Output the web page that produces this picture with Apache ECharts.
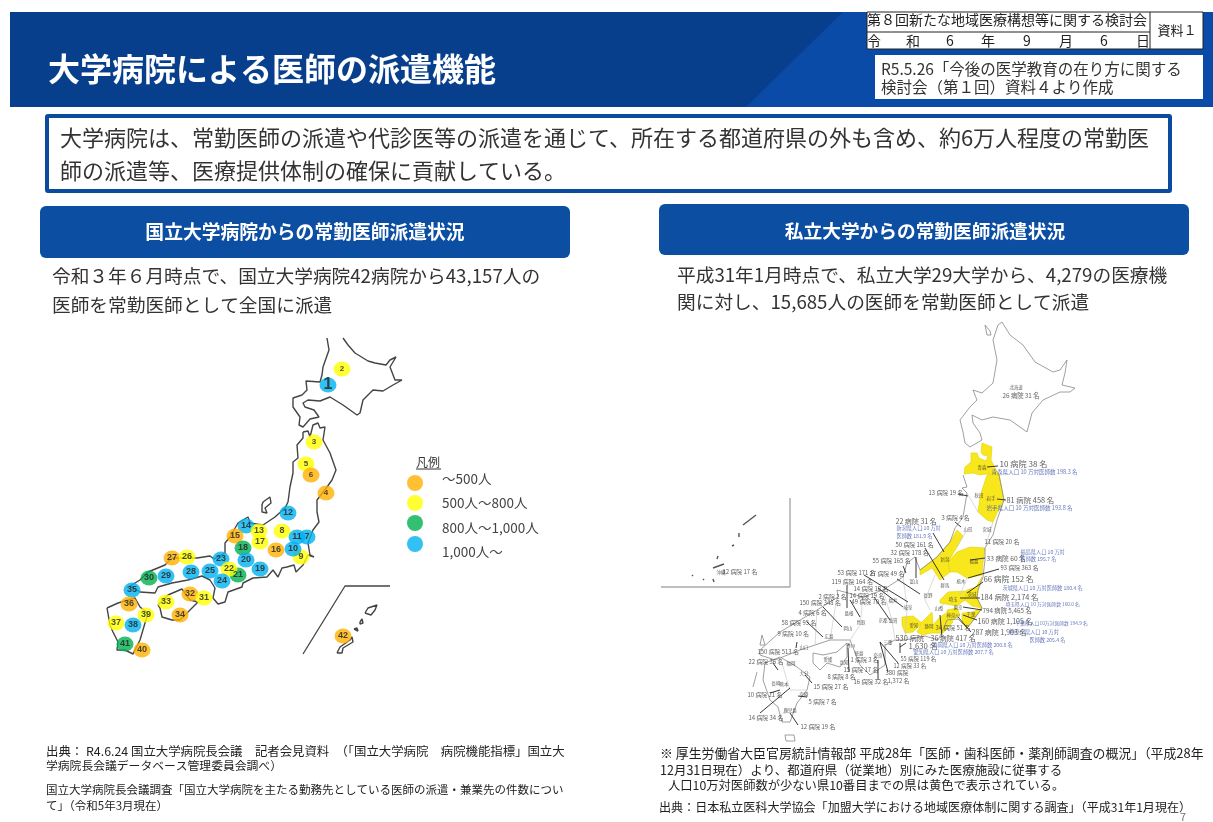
<!DOCTYPE html>
<html lang="ja">
<head>
<meta charset="utf-8">
<title>大学病院による医師の派遣機能</title>
<script src="https://cdn.jsdelivr.net/npm/echarts@6/dist/echarts.min.js"></script>
<style>html,body{margin:0;padding:0;background:#fff}#main{width:1213px;height:822px}</style>
</head>
<body>
<div id="main"></div>
<script>
var FONT = '"Noto Sans CJK JP","Noto Sans",sans-serif';

// 国立大学病院 [番号, x, y, 区分] 区分 0:~500 1:500~800 2:800~1000 3:1000~
var hospitals = [
  [1,328,385,3],[2,342,369,1],[3,314,442,1],[5,306,464,1],[6,311,475,0],[4,326,493,0],
  [12,288,513,3],[8,282,531,1],[11,297,537,3],[7,307,537,3],[9,301,557,1],[10,293,549,3],
  [16,276,550,0],[14,246,526,3],[13,259,531,1],[15,235,536,0],[17,260,542,1],[18,243,548,2],
  [23,221,559,3],[20,246,560,3],[19,260,569,3],[21,238,575,2],[22,229,569,1],[25,210,571,3],
  [24,222,581,3],[28,191,572,3],[29,166,576,3],[30,149,578,2],[27,172,558,0],[26,187,557,1],
  [35,132,590,3],[36,129,604,0],[32,190,594,0],[31,204,598,1],[33,166,602,1],[34,180,615,0],
  [39,146,615,1],[37,116,623,1],[38,133,625,3],[41,125,644,2],[40,142,650,0],[42,343,636,0]
];
var bandColors = ['#FFB000','#FFFF00','#00B050','#00B0F0'];
var legendLabels = ['〜500人','500人〜800人','800人〜1,000人','1,000人〜'];
var legendDots = [[415,483,0],[415,503,1],[415,523,2],[415,544,3]];

// 左の地図の輪郭
var leftHokkaido = [[327,338],[329,350],[323,367],[322,375],[320,382],[306,381],[305,383],[307,390],[302,395],[293,398],[293,407],[300,417],[299,425],[303,427],[310,419],[319,417],[314,410],[305,407],[303,403],[308,400],[320,401],[330,397],[343,405],[357,415],[360,413],[363,400],[373,390],[383,391],[393,385],[402,380],[395,380],[390,367],[396,357],[390,360],[386,365],[375,363],[368,361],[355,353],[348,345],[343,338]];
var leftHonshu = [[303,432],[308,431],[310,437],[313,425],[318,423],[320,428],[325,427],[323,440],[330,453],[336,470],[332,480],[327,487],[317,500],[317,512],[319,522],[313,530],[308,543],[310,555],[314,557],[308,555],[303,565],[296,572],[294,565],[287,567],[282,568],[278,577],[273,570],[267,577],[253,578],[243,583],[242,587],[228,592],[225,602],[218,604],[213,598],[215,588],[210,580],[202,576],[188,580],[172,583],[158,587],[155,593],[140,592],[130,586],[140,580],[148,572],[165,565],[172,558],[197,558],[210,556],[214,559],[225,553],[225,543],[230,537],[238,523],[238,521],[248,517],[250,523],[263,525],[275,517],[285,508],[288,502],[290,487],[293,473],[293,462],[298,458],[297,445],[303,438],[303,432]];
var leftSado = [[263,502],[270,497],[271,503],[265,508],[267,513],[262,512],[262,505],[263,502]];
var leftShikoku = [[158,605],[168,595],[182,589],[190,600],[198,602],[192,608],[180,620],[172,620],[162,617],[160,608],[158,605]];
var leftKyushu = [[107,608],[118,603],[135,598],[140,607],[148,613],[145,623],[140,640],[133,654],[125,650],[117,650],[118,642],[113,632],[110,625],[107,608]];
var leftInset = [[303,654],[345,586],[390,586]];
var leftAmami = [[365,613],[368,608],[377,605],[375,610],[371,615],[365,613]];
var leftTokunoshima = [[360,622],[362,619],[363,623],[360,624],[360,622]];
var leftOkinoerabu = [[354,629],[357,628],[358,631],[354,629]];
var leftOkinawa = [[337,653],[340,647],[350,640],[352,637],[353,642],[343,648],[342,653],[337,653]];
var leftOutlines = [leftHokkaido,leftHonshu,leftSado,leftShikoku,leftKyushu,leftAmami,leftTokunoshima,leftOkinoerabu,leftOkinawa];

// 右の地図の輪郭
var rightHokkaido = [[1002,322],[1010,335],[1023,345],[1035,362],[1053,372],[1060,370],[1067,360],[1065,373],[1062,385],[1075,388],[1070,392],[1060,392],[1043,400],[1032,413],[1027,432],[1010,420],[993,417],[982,420],[972,415],[973,423],[980,433],[982,440],[970,447],[965,443],[963,432],[960,420],[970,407],[977,400],[973,390],[982,393],[993,383],[997,360],[993,340],[998,325],[1002,322]];
var rightRishiri = [[985,325],[987,335],[991,335],[990,331],[985,325]];
var rightWest = [[963,475],[967,487],[962,488],[967,493],[963,517],[955,528],[950,542],[937,557],[920,570],[915,557],[907,563],[903,577],[883,590],[863,597],[837,590],[838,597],[817,610],[780,632],[760,650]];
var rightEast = [[999,475],[1004,500],[997,520],[993,535],[985,548],[985,560],[983,577],[978,590],[977,598],[982,608],[972,622],[967,628],[962,623],[958,619],[947,620],[942,632],[938,640],[925,636],[905,640],[895,640],[885,645],[885,665],[870,675],[860,665],[850,640],[830,640],[800,650],[775,660],[760,655],[760,650]];
var rightShikoku = [[813,653],[823,655],[837,652],[847,643],[847,657],[840,667],[827,663],[820,670],[813,663],[813,653]];
var rightKyushu = [[765,663],[780,657],[797,667],[810,677],[807,690],[797,703],[790,722],[782,722],[778,707],[770,700],[763,680],[765,663]];
var rightTsushima = [[762,635],[765,645],[760,645],[762,635]];
var rightGoto = [[757,672],[753,687]];
var rightYakushima = [[785,735],[794,735],[795,741],[786,741],[785,735]];
var rightBorders = [[[967,493],[978,512]],[[955,528],[963,517]],[[957,547],[967,530]],[[985,548],[993,522]],[[967,578],[960,595]],[[945,603],[938,610]],[[903,577],[907,607],[905,640]],[[883,590],[892,620],[895,640]],[[863,597],[860,625],[850,640]],[[837,597],[830,640]],[[817,610],[815,645]],[[780,657],[790,690],[807,690]],[[935,575],[925,600],[930,610]]];
var rightOutlines = [rightHokkaido,rightRishiri,rightWest,rightEast,rightShikoku,rightKyushu,rightTsushima,rightGoto,rightYakushima];
var okinawaBox = [[661,587],[790,587],[790,498]];
var okinawaIslands = [[[743,525],[756,515]],[[739,533],[739,537]],[[732,546],[734,545]],[[718,556],[717,559]],[[724,564],[713,568]],[[713,579],[714,582]],[[692,575],[693,576]],[[703,579],[704,580]]];

// 右の地図の黄色の県
var prefAomori = [[982,443],[992,447],[991,460],[995,468],[999,475],[987,474],[980,475],[973,473],[964,474],[965,467],[971,462],[971,453],[977,453],[979,458],[986,461],[988,456],[983,455],[981,452]];
var prefIwate = [[987,475],[999,474],[1002,490],[1004,500],[997,513],[993,522],[987,520],[978,512],[980,497],[983,487]];
var prefNiigata = [[957,530],[963,536],[957,547],[948,562],[950,572],[940,580],[932,568],[920,575],[920,570],[937,557],[950,542]];
var prefFukushima = [[957,552],[970,547],[985,548],[983,563],[982,575],[967,578],[957,572],[950,572],[948,562]];
var prefIbaraki = [[967,590],[976,587],[982,577],[978,590],[977,598],[982,608],[972,606],[965,600]];
var prefSaitama = [[940,600],[948,592],[967,591],[965,600],[957,606],[940,603]];
var prefChiba = [[962,613],[973,612],[982,608],[972,622],[967,628],[962,623]];
var prefKanagawa = [[947,610],[957,608],[960,615],[953,620],[947,617]];
var prefAichi = [[902,617],[913,616],[922,623],[913,632],[905,633],[902,625]];
var prefShizuoka = [[922,622],[932,612],[933,625],[940,617],[948,612],[953,622],[943,633],[932,633],[922,635],[917,632]];
var yellowPrefs = [prefAomori,prefIwate,prefNiigata,prefFukushima,prefIbaraki,prefSaitama,prefChiba,prefKanagawa,prefAichi,prefShizuoka];

// 右の地図の引き出し線
var leaders = [
  [[998,466],[987,467]],[[1006,500],[997,499]],[[958,494],[968,496]],[[955,522],[961,527]],
  [[933,533],[944,552]],[[925,548],[944,580]],[[916,557],[916,578]],[[903,566],[906,573]],
  [[985,558],[970,560]],[[999,569],[968,578]],[[983,582],[967,593]],[[864,575],[908,602]],
  [[897,579],[920,594]],[[847,585],[847,608]],[[878,588],[903,607]],[[874,597],[890,620]],
  [[850,600],[860,617]],[[823,607],[842,627]],[[807,622],[823,637]],[[980,598],[960,598]],
  [[982,610],[963,607]],[[977,620],[963,615]],[[971,632],[958,617]],[[940,615],[942,637]],
  [[900,647],[906,643]],[[797,642],[796,648]],[[848,648],[849,672]],[[878,660],[878,680]],
  [[898,663],[880,642]],[[900,653],[900,643]],[[888,672],[880,642]],[[790,688],[760,713]],
  [[780,690],[770,693]],[[798,725],[790,713]],[[807,697],[798,696]],[[812,683],[805,675]],
  [[773,663],[778,670]]
];

// 右の地図の文字 [文字, x, y, 大きさ]
var mapLabels = [
  ['26 病院 31 名',1002,396,8.5],['10 病院 38 名',999,464,11],['13 病院 19 名',928,493,8],
  ['81 病院 458 名',1006,500,10],['3 病院 4 名',941,518,8],['22 病院 31 名',895,521,9.5],
  ['11 病院 20 名',984,542,8],['50 病院 161 名',895,545,8],['32 病院 178 名',890,553,8],
  ['33 病院 60 名',986,558,9],['55 病院 165 名',872,561,8],['93 病院 363 名',1000,568,8],
  ['53 病院 171 名',837,573,8],['27 病院 49 名',869,574,8],['66 病院 152 名',983,579,10.5],
  ['119 病院 164 名',831,582,8],['14 病院 18 名',853,589,8],['14 病院 19 名',849,596,8],
  ['184 病院 2,174 名',980,597,10],['2 病院 2 名',818,597,8],['150 病院 348 名',799,603,8],
  ['49 病院 70 名',851,602,8],['4 病院 6 名',798,613,8],['794 病院 5,465 名',982,611,8.5],
  ['160 病院 1,105 名',977,621,9.5],['58 病院 95 名',781,623,8],['287 病院 1,903 名',971,632,9.5],
  ['9 病院 10 名',777,634,8],['34 病院 51 名',935,628,8],['36 病院 417 名',930,638,9.5],
  ['530 病院',895,638,10],['1,630 名',908,646,10.5],['55 病院 119 名',900,659,7.5],
  ['12 病院 33 名',893,666,7.5],['150 病院 513 名',757,652,8],['22 病院 36 名',748,662,8],
  ['1 病院 3 名',850,660,8],['15 病院 17 名',843,670,8],['8 病院 8 名',827,677,8],
  ['16 病院 32 名',853,682,8],['380 病院',885,673,8],['1,372 名',887,681,8],
  ['15 病院 27 名',813,687,8],['10 病院 21 名',747,695,8],['5 病院 7 名',808,702,8],
  ['14 病院 34 名',748,718,8],['12 病院 19 名',800,727,8],['12 病院 17 名',722,572,8],
  ['北海道',1009,387,6],['青森',977,467,6],['秋田',974,495,6],['岩手',986,498,6],
  ['山形',963,529,6],['宮城',982,529,6],['新潟',940,559,6],['福島',969,561,6],
  ['富山',909,581,6],['群馬',940,585,6],['長野',923,595,6],['栃木',956,581,6],
  ['茨城',967,594,6],['埼玉',948,599,6],['東京',953,607,6],['山梨',934,608,6],
  ['千葉',966,614,6],['神奈川',946,615,6],['愛知',909,625,6],['静岡',924,626,6],
  ['岐阜',903,607,6],['福井',888,600,6],['島根',844,613,6],['鳥取',856,622,6],
  ['岡山',843,628,6],['広島',824,636,6],['京都',878,620,6],['滋賀',888,620,6],
  ['山口',799,647,6],['香川',846,645,6],['三重',883,642,6],['徳島',854,653,6],
  ['奈良',873,655,6],['愛媛',823,659,6],['高知',839,662,6],['福岡',786,663,6],
  ['大分',799,673,6],['長崎',771,683,6],['熊本',779,684,6],['宮崎',799,694,6],
  ['鹿児島',783,710,6],['沖縄',716,572,6]
];
var rateLabels = [
  ['青森県人口 10 万対医師数 198.3 名',991,472,7.5],['岩手県人口 10 万対医師数 193.8 名',986,508,7.5],
  ['新潟県人口 10 万対',896,528,7],['医師数 181.9 名',896,536,7],
  ['福島県人口 10 万対',1020,552,7],['医師数 195.7 名',1020,559,7],
  ['茨城県人口 10 万対医師数 180.4 名',1002,588,7],['埼玉県人口 10 万対医師数 160.0 名',1005,604,6.5],
  ['千葉県人口10万対医師数 194.9 名',1015,623,6.5],['神奈川県人口 10 万対',1009,632,7],
  ['医師数 205.4 名',1029,640,7],['静岡県人口 10 万対医師数 200.8 名',932,645,7],
  ['愛知県人口 10 万対医師数 207.7 名',913,652,7]
];
var labelScale = 0.74; // 元の図の文字は細いので小さめに

// スライドの文字 [文字, x, y, 大きさ, 色, 太さ, 揃え]
var slideTexts = [
  ['大学病院による医師の派遣機能',48,69,32,'#fff','bold','left'],
  ['第８回新たな地域医療構想等に関する検討会',867,20,14,'#222','normal','left'],
  ['資料１',1177,30,13,'#222','normal','center'],
  ['R5.5.26「今後の医学教育の在り方に関する',881,69,15.5,'#333','normal','left'],
  ['検討会（第１回）資料４より作成',881,87,15.5,'#333','normal','left'],
  ['大学病院は、常勤医師の派遣や代診医等の派遣を通じて、所在する都道府県の外も含め、約6万人程度の常勤医',60,138,22,'#333','normal','left'],
  ['師の派遣等、医療提供体制の確保に貢献している。',60,171,22,'#333','normal','left'],
  ['国立大学病院からの常勤医師派遣状況',305,232,18.8,'#fff','bold','center'],
  ['私立大学からの常勤医師派遣状況',925,231,18.7,'#fff','bold','center'],
  ['令和３年６月時点で、国立大学病院42病院から43,157人の',52,276,18.7,'#333','normal','left'],
  ['医師を常勤医師として全国に派遣',52,305,18.7,'#333','normal','left'],
  ['平成31年1月時点で、私立大学29大学から、4,279の医療機',677,275,18.7,'#333','normal','left'],
  ['関に対し、15,685人の医師を常勤医師として派遣',677,302,18.7,'#333','normal','left'],
  ['凡例',416,462,12,'#333','normal','left'],
  ['出典： R4.6.24 国立大学病院長会議　記者会見資料　（「国立大学病院　病院機能指標」国立大',46,751,12.4,'#222','normal','left'],
  ['学病院長会議データベース管理委員会調べ）',46,766,11.8,'#222','normal','left'],
  ['国立大学病院長会議調査「国立大学病院を主たる勤務先としている医師の派遣・兼業先の件数につい',46,790,11.5,'#222','normal','left'],
  ['て」（令和5年3月現在）',46,806,11.5,'#222','normal','left'],
  ['※ 厚生労働省大臣官房統計情報部 平成28年「医師・歯科医師・薬剤師調査の概況」（平成28年',660,753,12.9,'#222','normal','left'],
  ['12月31日現在）より、都道府県（従業地）別にみた医療施設に従事する',660,770,12.5,'#222','normal','left'],
  ['人口10万対医師数が少ない県10番目までの県は黄色で表示されている。',668,785,12.3,'#222','normal','left'],
  ['出典：日本私立医科大学協会「加盟大学における地域医療体制に関する調査」（平成31年1月現在）',659,807,12.05,'#222','normal','left'],
  ['7',1180,817,11,'#777','normal','left']
];
var dateCells = [['令',874],['和',913],['6',950],['年',988],['9',1027],['月',1066],['6',1104],['日',1143]];
var legendYs = [479,503,528,552];

function textEl(t) {
  return {type:'text', z:5, silent:true, x:t[1], y:t[2], style:{text:t[0], font:(t[5]||'normal')+' '+t[3]+'px '+FONT, fill:t[4], align:t[6]||'left', verticalAlign:'middle'}};
}
function rectEl(x,y,w,h,fill,stroke,lw,r) {
  return {type:'rect', z:1, silent:true, shape:{x:x,y:y,width:w,height:h,r:r||0}, style:{fill:fill,stroke:stroke||null,lineWidth:lw||0}};
}
var graphics = [
  rectEl(10,12,1203,95,'#083F8C'),
  {type:'polygon', z:1, silent:true, shape:{points:[[746,107],[843,12],[867,12],[867,107]]}, style:{fill:'#0A4BA8'}},
  {type:'polygon', z:1, silent:true, shape:{points:[[867,12],[1213,12],[1213,107],[867,107]]}, style:{fill:'#0A4BA8'}},
  rectEl(867,12,336,37,'#fff','#222',1),
  {type:'line', z:2, silent:true, shape:{x1:867,y1:32,x2:1150,y2:32}, style:{stroke:'#222',lineWidth:1}},
  {type:'line', z:2, silent:true, shape:{x1:1150,y1:12,x2:1150,y2:49}, style:{stroke:'#222',lineWidth:1}},
  rectEl(875,55,328,44,'#fff'),
  rectEl(47,116,1123,75,'#fff','#0A4BA0',4,1),
  rectEl(40,206,530,52,'#0B4EA2',null,0,6),
  rectEl(659,204,530,51,'#0B4EA2',null,0,6),
  {type:'line', z:2, silent:true, shape:{x1:416,y1:469,x2:441,y2:469}, style:{stroke:'#333',lineWidth:1}}
];
slideTexts.forEach(function (t) { graphics.push(textEl(t)); });
dateCells.forEach(function (c) { graphics.push(textEl([c[0],c[1],41,14,'#222','normal','center'])); });
legendLabels.forEach(function (l,i) { graphics.push(textEl([l,442,legendYs[i],13.5,'#444','normal','left'])); });

function outlineSeries(list,color,width) {
  return list.map(function (pts) {
    return {type:'line', data:pts, symbol:'none', silent:true, z:3, animation:false,
      lineStyle:{color:color,width:width}, emphasis:{disabled:true}};
  });
}
function labelSeries(rows,color) {
  return {type:'scatter', silent:true, z:6, animation:false, symbolSize:1, itemStyle:{color:'rgba(0,0,0,0)'},
    data:rows.map(function (r) {
      return {value:[r[1],r[2]], label:{show:true, position:'right', distance:0, formatter:r[0], fontFamily:FONT, fontSize:r[3]*labelScale, color:color}};
    })};
}

var series = [{
    type:'custom', silent:true, z:2, animation:false,
    data:yellowPrefs.map(function (p,i) { return [i]; }),
    encode:{x:[],y:[]},
    renderItem:function (params,api) {
      var pts = yellowPrefs[api.value(0)].map(function (p) { return api.coord(p); });
      return {type:'polygon', shape:{points:pts}, style:{fill:'#F8E71C',stroke:'#E3D000',lineWidth:.6}};
    }
  }]
  .concat(outlineSeries(leftOutlines,'#444',1.4))
  .concat(outlineSeries([leftInset],'#444',1.3))
  .concat(outlineSeries(rightOutlines,'#888',.8))
  .concat(outlineSeries(rightBorders,'#ccc',.7))
  .concat(outlineSeries(okinawaIslands,'#555',1.4))
  .concat(outlineSeries([okinawaBox],'#aaa',1.4))
  .concat(outlineSeries(leaders,'#222',.9))
  .concat([
    labelSeries(mapLabels,'#333'),
    labelSeries(rateLabels,'#3F55AA'),
    {type:'scatter', silent:true, z:5, animation:false, symbolSize:16,
      data:legendDots.map(function (d) { return {value:[d[0],d[1]], itemStyle:{color:bandColors[d[2]]}}; })},
    {type:'scatter', silent:true, z:5, animation:false, symbolSize:[17,15],
      data:hospitals.map(function (h) {
        return {value:[h[1],h[2]], itemStyle:{color:bandColors[h[3]]},
          label:{show:true, position:'inside', formatter:String(h[0]), fontFamily:'"Liberation Sans",sans-serif',
            fontSize:h[0]===1?16:(h[0]<7?8:9), fontWeight:'bold', color:'#222'}};
      })}
  ]);

var chart = echarts.init(document.getElementById('main'));
chart.setOption({
  backgroundColor:'#fff',
  animation:false,
  tooltip:{show:false},
  grid:{left:0,right:0,top:0,bottom:0},
  xAxis:{type:'value',min:0,max:1213,show:false},
  yAxis:{type:'value',min:0,max:822,inverse:true,show:false},
  graphic:graphics,
  series:series
});
</script>
</body>
</html>
